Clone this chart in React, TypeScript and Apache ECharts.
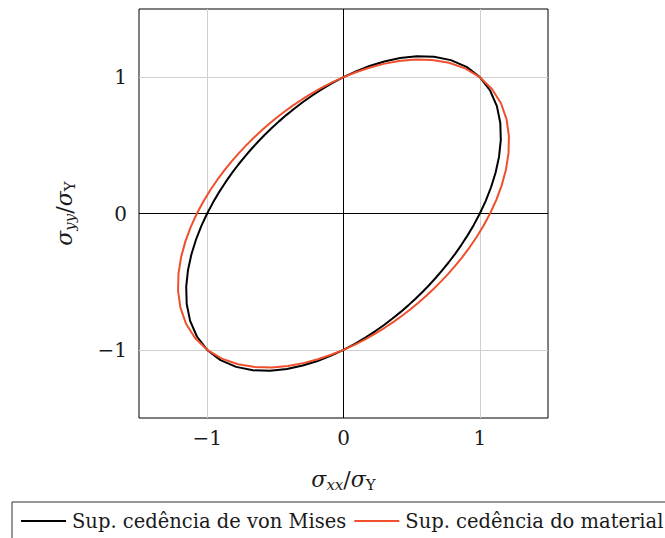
import React, { useEffect, useRef } from "react";
import * as echarts from "echarts";

// Normalised stress coordinates [σxx/σY, σyy/σY] along each yield surface (every 5° around the origin)
const vonMisesPoints: [number, number][] = [
  [1, 0], [1.0425, 0.0912], [1.0816, 0.1907], [1.1154, 0.2989], [1.1407, 0.4152],
  [1.1538, 0.538], [1.1501, 0.664], [1.125, 0.7877], [1.0752, 0.9022], [1, 1],
  [0.9022, 1.0752], [0.7877, 1.125], [0.664, 1.1501], [0.538, 1.1538], [0.4152, 1.1407],
  [0.2989, 1.1154], [0.1907, 1.0816], [0.0912, 1.0425], [0, 1],
  [-0.0836, 0.9556], [-0.1605, 0.9101], [-0.2315, 0.864], [-0.2975, 0.8175], [-0.3594, 0.7707],
  [-0.4177, 0.7235], [-0.4731, 0.6757], [-0.5262, 0.6271], [-0.5774, 0.5774], [-0.6271, 0.5262],
  [-0.6757, 0.4731], [-0.7235, 0.4177], [-0.7707, 0.3594], [-0.8175, 0.2975], [-0.864, 0.2315],
  [-0.9101, 0.1605], [-0.9556, 0.0836],
  [-1, 0], [-1.0425, -0.0912], [-1.0816, -0.1907], [-1.1154, -0.2989], [-1.1407, -0.4152],
  [-1.1538, -0.538], [-1.1501, -0.664], [-1.125, -0.7877], [-1.0752, -0.9022], [-1, -1],
  [-0.9022, -1.0752], [-0.7877, -1.125], [-0.664, -1.1501], [-0.538, -1.1538], [-0.4152, -1.1407],
  [-0.2989, -1.1154], [-0.1907, -1.0816], [-0.0912, -1.0425], [0, -1],
  [0.0836, -0.9556], [0.1605, -0.9101], [0.2315, -0.864], [0.2975, -0.8175], [0.3594, -0.7707],
  [0.4177, -0.7235], [0.4731, -0.6757], [0.5262, -0.6271], [0.5774, -0.5774], [0.6271, -0.5262],
  [0.6757, -0.4731], [0.7235, -0.4177], [0.7707, -0.3594], [0.8175, -0.2975], [0.864, -0.2315],
  [0.9101, -0.1605], [0.9556, -0.0836], [1, 0],
];

const materialPoints: [number, number][] = [
  [1.0752, 0], [1.1202, 0.098], [1.1597, 0.2045], [1.191, 0.3191], [1.2103, 0.4405],
  [1.2135, 0.5659], [1.1962, 0.6906], [1.155, 0.8087], [1.089, 0.9138], [1, 1],
  [0.8929, 1.0641], [0.774, 1.1054], [0.65, 1.1259], [0.5264, 1.1289], [0.407, 1.1182],
  [0.2941, 1.0974], [0.1886, 1.0694], [0.0907, 1.0364], [0, 1],
  [-0.0841, 0.9612], [-0.1624, 0.9208], [-0.2356, 0.8791], [-0.3044, 0.8364], [-0.3696, 0.7927],
  [-0.4318, 0.7479], [-0.4915, 0.7019], [-0.5491, 0.6544], [-0.6052, 0.6052], [-0.6601, 0.5539],
  [-0.7141, 0.5], [-0.7675, 0.4431], [-0.8204, 0.3826], [-0.8729, 0.3177], [-0.9251, 0.2479],
  [-0.9766, 0.1722], [-1.0269, 0.0898],
  [-1.0752, 0], [-1.1202, -0.098], [-1.1597, -0.2045], [-1.191, -0.3191], [-1.2103, -0.4405],
  [-1.2135, -0.5659], [-1.1962, -0.6906], [-1.155, -0.8087], [-1.089, -0.9138], [-1, -1],
  [-0.8929, -1.0641], [-0.774, -1.1054], [-0.65, -1.1259], [-0.5264, -1.1289], [-0.407, -1.1182],
  [-0.2941, -1.0974], [-0.1886, -1.0694], [-0.0907, -1.0364], [0, -1],
  [0.0841, -0.9612], [0.1624, -0.9208], [0.2356, -0.8791], [0.3044, -0.8364], [0.3696, -0.7927],
  [0.4318, -0.7479], [0.4915, -0.7019], [0.5491, -0.6544], [0.6052, -0.6052], [0.6601, -0.5539],
  [0.7141, -0.5], [0.7675, -0.4431], [0.8204, -0.3826], [0.8729, -0.3177], [0.9251, -0.2479],
  [0.9766, -0.1722], [1.0269, -0.0898], [1.0752, 0],
];

const seriesNames = ["Sup. cedência de von Mises", "Sup. cedência do material"];
const axisMin = -1.5;
const axisMax = 1.5;
const gridLineValues = [-1, 1];
const zeroLineValues = [0];

const SERIF = "DejaVu Serif";
const INK = "#1a1a1a";

const tickLabel = (v: number) => {
  if (!Number.isInteger(v)) return "";
  return v < 0 ? "\u2212" + Math.abs(v) : String(v);
};

const nameRich = {
  m: { fontFamily: SERIF, fontStyle: "italic", fontSize: 22, color: INK },
  s: { fontFamily: SERIF, fontSize: 22, color: INK },
  si: { fontFamily: SERIF, fontStyle: "italic", fontSize: 15, color: INK, verticalAlign: "bottom", padding: [11, 0, 0, 0] },
  sr: { fontFamily: SERIF, fontSize: 15, color: INK, verticalAlign: "bottom", padding: [11, 0, 0, 0] },
};

export default function App() {
  const ref = useRef<HTMLDivElement>(null);

  useEffect(() => {
    if (!ref.current) return;
    const chart = echarts.init(ref.current, undefined, { renderer: "svg" });

    const valueAxis = (name: string, nameGap: number, labelMargin: number, extra: any) => ({
      type: "value",
      min: axisMin,
      max: axisMax,
      interval: 0.5,
      name,
      nameLocation: "middle",
      nameGap,
      nameTextStyle: { rich: nameRich },
      axisLine: { show: false },
      axisTick: { show: false },
      splitLine: { show: false },
      axisLabel: {
        formatter: tickLabel,
        fontFamily: SERIF,
        fontSize: 20,
        color: INK,
        margin: labelMargin,
        showMinLabel: false,
        showMaxLabel: false,
      },
      ...extra,
    });

    chart.setOption({
      animation: false,
      grid: {
        left: 139,
        top: 9,
        width: 409,
        height: 409,
        show: true,
        borderColor: "#000",
        borderWidth: 1,
        backgroundColor: "transparent",
      },
      xAxis: valueAxis("{m|σ}{si|xx}{s|/}{m|σ}{sr|Y}", 48, 10, {}),
      yAxis: valueAxis("{m|σ}{si|yy}{s|/}{m|σ}{sr|Y}", 62, 12, { nameRotate: 90 }),
      legend: {
        left: 12,
        top: 502,
        width: 700,
        data: seriesNames,
        icon: "rect",
        itemWidth: 45,
        itemHeight: 2,
        itemGap: 8,
        padding: [9, 12, 20, 9],
        borderColor: "#333",
        borderWidth: 1,
        textStyle: { fontFamily: SERIF, fontSize: 19.5, color: INK, padding: [0, 0, 0, 1] },
      },
      series: [
        {
          name: "gridlines",
          type: "line",
          data: [],
          silent: true,
          markLine: {
            silent: true,
            z: 1,
            symbol: ["none", "none"],
            label: { show: false },
            emphasis: { disabled: true },
            lineStyle: { color: "#cfcfcf", width: 1, type: "solid" },
            data: [
              ...gridLineValues.map((v) => ({ xAxis: v })),
              ...gridLineValues.map((v) => ({ yAxis: v })),
              ...zeroLineValues.map((v) => ({ xAxis: v, lineStyle: { color: "#000", width: 1, type: "solid" } })),
              ...zeroLineValues.map((v) => ({ yAxis: v, lineStyle: { color: "#000", width: 1, type: "solid" } })),
            ],
          },
        },
        {
          name: seriesNames[0],
          type: "line",
          data: vonMisesPoints,
          symbol: "none",
          z: 3,
          lineStyle: { color: "#000", width: 2, join: "round" },
          itemStyle: { color: "#000" },
        },
        {
          name: seriesNames[1],
          type: "line",
          data: materialPoints,
          symbol: "none",
          z: 4,
          lineStyle: { color: "#ef4f2b", width: 2, join: "round" },
          itemStyle: { color: "#ef4f2b" },
        },
      ],
    });

    return () => chart.dispose();
  }, []);

  // The chart canvas is wider than the visible frame so the legend box can run past the right edge.
  return (
    <div style={{ position: "absolute", left: 0, top: 0, width: 665, height: 538, overflow: "hidden" }}>
      <div ref={ref} style={{ position: "absolute", left: 0, top: 0, width: 720, height: 538 }} />
    </div>
  );
}
